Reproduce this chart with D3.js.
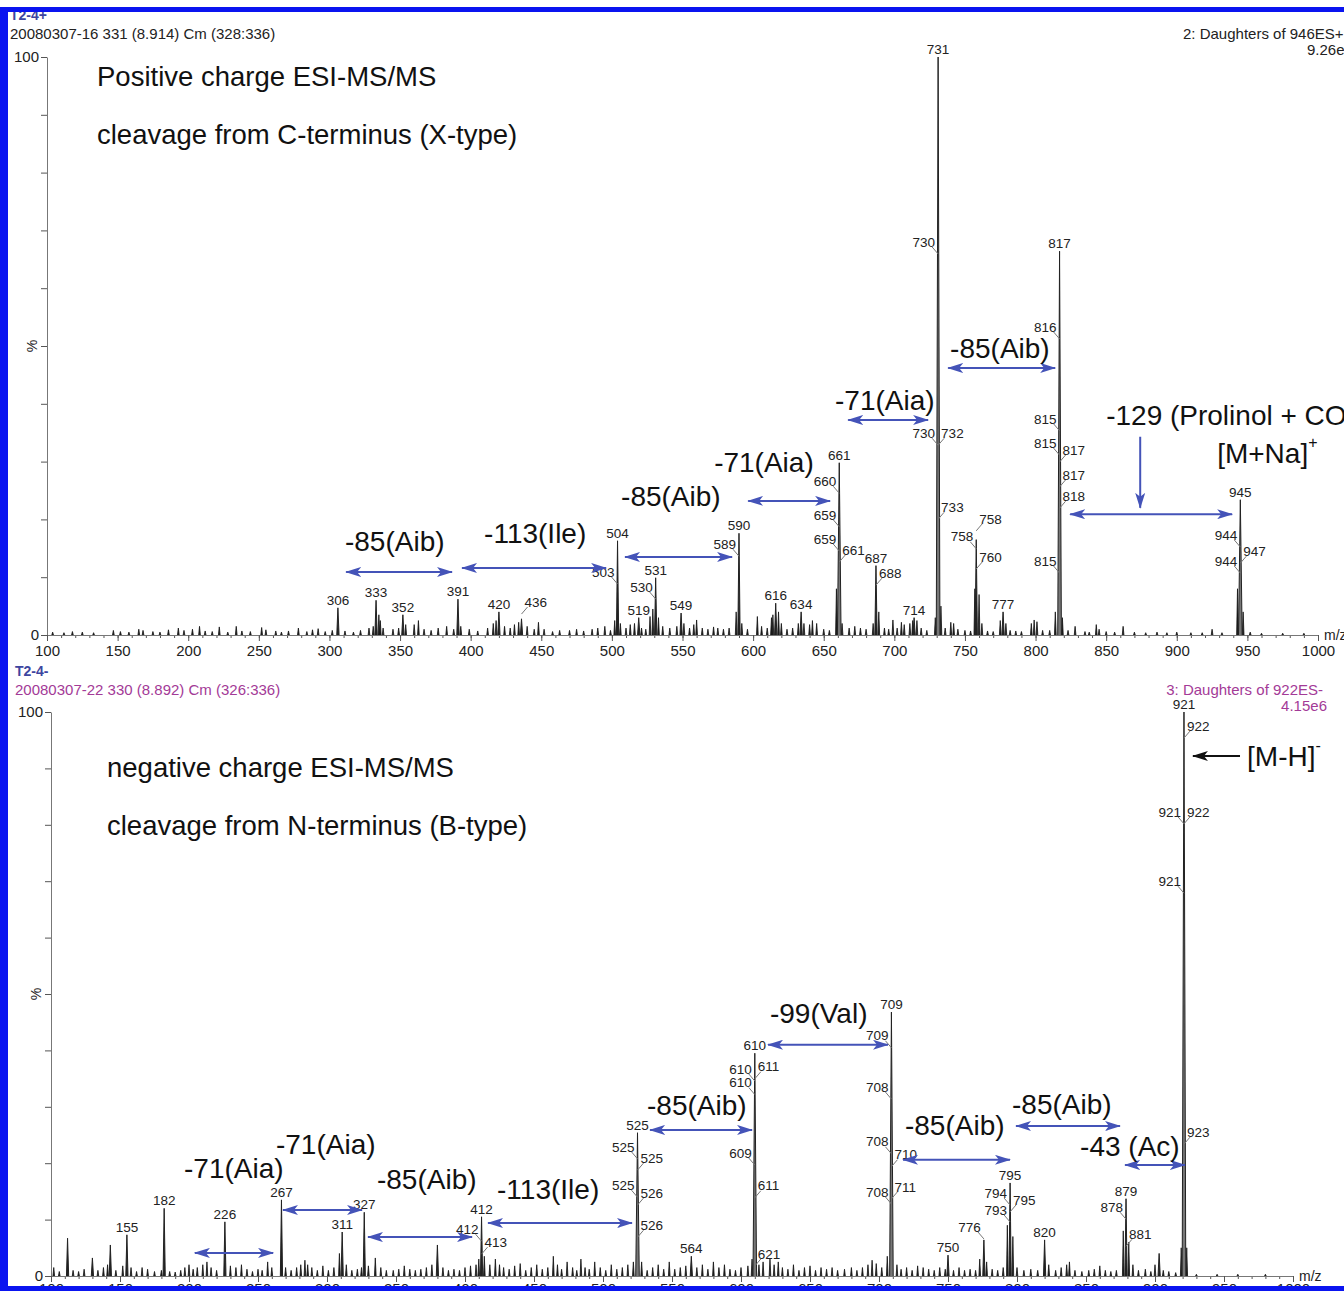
<!DOCTYPE html>
<html>
<head>
<meta charset="utf-8">
<script src="https://cdn.jsdelivr.net/npm/d3@7"></script>
<style>
  body { margin: 0; background: #fff; overflow: hidden; }
  svg { display: block; font-family: "Liberation Sans", Arial, sans-serif; }
  .tick text { font-size: 15px; fill: #222; }
  .tick line { stroke: #555; }
  .domain { stroke: #777; }
</style>
</head>
<body>
<div id="chart"></div>
<script>
// ---- positive mode (top) ----
const posPeaks = [[306,4.7],[333,6.0],[352,3.5],[391,6.2],[420,4.0],[436,2.8],[504,16.3],[519,3.0],[531,9.9],[549,3.8],[590,17.6],[616,5.5],[634,4.0],[661,29.8],[687,12.0],[714,3.0],[731,100],[758,16.5],[777,4.0],[817,66.4],[945,23.4]];
const posNoise = [[104,0.5],[112,0.4],[118,0.6],[125,0.5],[133,0.4],[147,0.8],[152,0.6],[158,0.5],[165,1.0],[168,0.8],[175,0.6],[180,0.5],[186,0.9],[193,1.2],[197,0.8],[203,1.0],[208,1.5],[212,0.7],[217,0.6],[222,1.4],[228,0.5],[234,1.5],[238,0.7],[244,0.6],[252,1.3],[255,0.9],[262,0.7],[266,0.5],[271,0.7],[278,1.2],[284,0.6],[288,0.9],[292,1.1],[297,0.6],[302,0.8],[311,0.7],[317,0.5],[322,0.8],[328,1.2],[331,1.5],[335,3.5],[336,2.5],[338,1.2],[345,1.0],[349,1.2],[354,1.8],[360,1.8],[363,2.5],[367,1.0],[372,0.8],[377,1.2],[383,1.5],[388,1.0],[393,1.5],[399,1.0],[405,0.7],[412,1.2],[416,2.0],[418,2.5],[424,1.5],[428,1.2],[431,1.8],[434,2.2],[440,1.5],[445,1.0],[448,2.2],[452,1.0],[458,0.6],[463,0.8],[470,0.8],[475,1.0],[480,0.7],[486,1.0],[490,1.2],[495,1.5],[499,0.8],[502,2.5],[506,2.0],[510,1.2],[513,1.8],[516,2.0],[521,1.2],[524,1.0],[527,3.2],[529,4.5],[533,3.0],[536,1.5],[541,1.2],[546,1.5],[551,2.0],[555,1.2],[558,1.8],[560,2.6],[564,1.2],[568,1.0],[572,1.4],[575,1.2],[579,1.0],[583,1.2],[588,4.0],[592,2.0],[596,1.0],[603,3.2],[606,1.5],[610,1.2],[613,3.0],[614,3.5],[618,4.0],[620,2.0],[624,1.0],[628,1.2],[632,2.0],[636,2.0],[640,1.8],[642,2.5],[645,2.0],[650,1.0],[654,0.8],[659,8],[663,2.0],[668,1.2],[672,1.5],[676,1.2],[680,1.0],[685,2.0],[689,4.0],[693,1.2],[696,1.0],[699,2.6],[702,1.2],[705,2.2],[707,1.8],[711,2.0],[713,2.5],[716,2.5],[719,1.2],[723,0.8],[729,3.0],[733,5.0],[736,1.2],[740,2.2],[742,2.0],[745,1.0],[750,0.8],[754,0.7],[757,8.0],[760,7.0],[762,2.0],[766,0.7],[770,0.6],[775,2.5],[779,2.0],[782,0.8],[786,0.7],[790,0.6],[797,2.0],[799,2.6],[801,2.3],[805,0.8],[810,0.8],[814,4.0],[819,3.0],[823,0.8],[828,1.5],[835,0.6],[838,0.5],[843,1.8],[845,1.0],[850,0.6],[856,0.5],[862,1.5],[870,0.5],[878,0.4],[886,0.5],[893,0.4],[900,0.5],[910,0.4],[918,0.4],[925,1.0],[932,0.4],[943,8],[947,4.0],[952,0.5],[960,0.3],[975,0.3],[990,0.3]];
// peak labels: [text, m/z of peak, %, side]  c = on top, l/r = side label with leader
const posLabels = [["306",306,4.7,"c"],["333",333,6.0,"c"],["352",352,3.5,"c"],["391",391,6.2,"c"],["420",420,4.0,"c"],["504",504,16.3,"c"],["519",519,3.0,"c"],["531",531,9.9,"c"],["549",549,3.8,"c"],["590",590,17.6,"c"],["616",616,5.5,"c"],["634",634,4.0,"c"],["661",661,29.8,"c"],["687",687,12.0,"c"],["714",714,3.0,"c"],["731",731,100,"c"],["777",777,4.0,"c"],["817",817,66.4,"c"],["945",945,23.4,"c"],
  ["730",731,68.0,"l"],["816",817,53.3,"l"],["815",817,37.4,"l"],["815",817,33.2,"l"],["815",817,12.8,"l"],["730",731,34.9,"l"],["758",758,17.0,"l"],["660",661,26.6,"l"],["659",661,20.8,"l"],["659",661,16.6,"l"],["589",590,15.7,"l"],["503",504,10.9,"l"],["530",531,8.3,"l"],["944",945,17.3,"l"],["944",945,12.8,"l"],
  ["817",817,32.0,"r"],["817",817,27.7,"r"],["818",817,24.0,"r"],["732",731,34.9,"r"],["733",731,22.1,"r"],["758",758,20.1,"r"],["760",758,13.5,"r"],["688",687,10.7,"r"],["661",661,14.7,"r"],["436",436,5.7,"r"],["947",945,14.5,"r"]];
// double arrows: [from m/z, to m/z, %]
const posArrows = [[311.8,386.8,10.9],[393.9,495.9,11.6],[509.3,585.1,13.5],[596.5,654.5,23.2],[667.3,723.9,37.2],[738.1,813.9,46.2],[824.5,939.2,20.9]];
// neutral loss notes: [text, m/z where text starts, %, superscript]
const posNotes = [["-85(Aib)",311,16.3],["-113(Ile)",409.5,17.6],["-85(Aib)",506.5,24.0],["-71(Aia)",572.4,29.9],["-71(Aia)",658,40.7],["-85(Aib)",739.5,49.6],["-129 (Prolinol + CO)",850,38.1],["[M+Na]",928.6,31.5,"+"]];

// ---- negative mode (bottom) ----
const negPeaks = [[112,6.7],[130,3.2],[143,5.5],[155,7.3],[182,12.0],[226,9.6],[267,13.5],[311,7.8],[327,11.3],[380,5.5],[412,10.5],[525,25.4],[564,3.5],[610,39.5],[709,46.8],[750,3.7],[776,6.4],[795,16.5],[820,6.4],[879,13.7],[903,4.0],[921,100]];
const negNoise = [[102,1.5],[106,0.8],[116,1.0],[120,0.8],[124,1.2],[134,1.0],[138,1.5],[141,2.0],[147,1.0],[152,1.8],[158,1.5],[162,0.8],[166,1.5],[170,1.2],[175,0.8],[180,1.0],[186,0.8],[190,0.7],[194,1.0],[197,1.5],[200,2.0],[203,1.2],[206,1.5],[210,2.0],[213,2.5],[216,1.5],[220,1.0],[230,1.8],[234,1.5],[238,2.0],[242,1.2],[246,0.8],[250,1.2],[253,1.0],[257,2.5],[260,1.5],[270,1.5],[274,1.0],[278,1.5],[281,2.0],[284,2.8],[286,2.0],[289,1.5],[293,1.0],[297,1.8],[301,1.0],[305,1.5],[309,4.0],[314,2.0],[318,1.0],[322,1.2],[325,1.5],[330,1.8],[335,3.2],[339,1.5],[343,1.0],[348,1.0],[352,1.2],[356,1.8],[360,1.2],[364,1.0],[368,1.2],[372,1.5],[376,2.0],[384,1.5],[388,1.0],[392,1.2],[396,1.0],[400,1.5],[404,1.8],[408,2.0],[410,3.0],[414,3.5],[418,2.0],[422,3.0],[425,2.0],[428,1.5],[432,1.2],[436,1.8],[440,2.2],[444,1.0],[448,1.5],[452,2.0],[456,1.2],[460,1.5],[464,3.5],[467,2.0],[470,1.2],[474,2.5],[478,1.5],[481,1.0],[484,3.0],[487,1.5],[490,1.2],[494,2.5],[498,1.5],[502,1.0],[506,2.0],[510,1.2],[514,1.5],[518,2.0],[522,2.5],[528,2.5],[532,1.0],[536,1.5],[540,2.0],[544,1.2],[548,2.5],[552,1.2],[556,1.5],[560,1.8],[568,1.5],[572,2.0],[576,1.2],[580,2.5],[584,1.5],[588,2.0],[592,1.2],[596,1.0],[600,1.5],[605,1.8],[608,3.0],[613,2.0],[616,2.5],[621,3.0],[624,2.0],[627,2.5],[630,1.5],[634,1.2],[638,2.0],[642,1.0],[646,1.5],[650,1.8],[654,1.0],[658,1.5],[662,1.2],[666,1.5],[670,1.0],[675,1.2],[680,1.5],[684,1.0],[688,1.5],[692,2.0],[695,2.8],[698,2.2],[702,1.5],[706,3.5],[713,2.0],[716,1.2],[720,1.5],[724,1.0],[728,1.8],[732,1.5],[736,1.2],[740,1.0],[744,1.5],[748,1.2],[754,1.0],[758,1.5],[762,1.0],[766,1.2],[770,1.0],[773,3.0],[778,2.5],[782,1.2],[786,1.0],[790,1.5],[793,9.0],[797,7.0],[800,1.5],[805,1.0],[810,1.2],[815,1.0],[823,2.0],[828,1.0],[832,1.5],[836,2.0],[838,2.5],[842,1.0],[847,0.8],[852,1.0],[856,1.2],[860,1.8],[864,1.0],[868,0.8],[872,1.0],[877,8.0],[881,6.0],[884,2.0],[888,1.0],[893,1.2],[897,0.8],[900,2.0],[906,1.0],[910,0.8],[915,0.6],[919,5.0],[923,5.0],[930,0.3],[945,0.3],[960,0.3],[980,0.3]];
const negLabels = [["155",155,7.3,"c"],["182",182,12.0,"c"],["226",226,9.6,"c"],["267",267,13.5,"c"],["311",311,7.8,"c"],["327",327,11.3,"c"],["412",412,10.5,"c"],["525",525,25.4,"c"],["564",564,3.5,"c"],["610",610,39.5,"c"],["709",709,46.8,"c"],["750",750,3.7,"c"],["795",795,16.5,"c"],["820",820,6.4,"c"],["879",879,13.7,"c"],["921",921,100,"c"],
  ["921",921,82.3,"l"],["921",921,70.0,"l"],["709",709,42.6,"l"],["708",709,33.5,"l"],["708",709,23.8,"l"],["708",709,14.9,"l"],["610",610,36.7,"l"],["610",610,34.3,"l"],["609",610,21.8,"l"],["525",525,22.9,"l"],["525",525,16.1,"l"],["412",412,8.3,"l"],["794",795,14.7,"l"],["793",795,11.7,"l"],["776",776,8.7,"l"],["878",879,12.2,"l"],
  ["922",921,97.5,"r"],["922",921,82.3,"r"],["923",921,25.5,"r"],["710",709,21.5,"r"],["711",709,15.8,"r"],["611",610,37.1,"r"],["611",610,16.0,"r"],["621",610,3.9,"r"],["525",525,20.9,"r"],["526",525,14.7,"r"],["526",525,9.0,"r"],["413",412,6.0,"r"],["795",795,13.5,"r"],["881",879,7.4,"r"]];
const negArrows = [[204.3,260.9,4.1],[268.1,325.4,11.7],[329.7,405.1,6.9],[416.7,521.0,9.4],[534.1,608.0,25.9],[619.6,706.5,41.0],[717.4,794.9,20.6],[799.3,874.6,26.6],[878.3,921.7,19.7]];
const negNotes = [["-71(Aia)",196.4,19.1],["-71(Aia)",263,23.4],["-85(Aib)",336.2,17.2],["-113(Ile)",423.2,15.4],["-85(Aib)",531.9,30.3],["-99(Val)",621,46.6],["-85(Aib)",718.8,26.8],["-85(Aib)",796.4,30.5],["-43 (Ac)",845.7,23.0],["[M-H]",966.7,92.2,"-"]];

const xTicks = d3.range(100, 1001, 50);
const yTicks = d3.range(0, 101, 10);

const W = 1344, H = 1291;
const svg = d3.select('#chart').append('svg').attr('width', W).attr('height', H);

const defs = svg.append('defs');
[['blueHead', '#4453b8'], ['blackHead', '#111']].forEach(([id, c]) => {
  defs.append('marker').attr('id', id)
    .attr('viewBox', '0 0 16 10').attr('refX', 15).attr('refY', 5)
    .attr('markerWidth', 16).attr('markerHeight', 10)
    .attr('markerUnits', 'userSpaceOnUse').attr('orient', 'auto-start-reverse')
    .append('path').attr('d', 'M0,0 L16,5 L0,10 L4,5 Z').attr('fill', c);
});

function drawPanel(p) {
  const x = d3.scaleLinear().domain([100, 1000]).range(p.xr);
  const y = d3.scaleLinear().domain([0, 100]).range(p.yr);
  const g = svg.append('g');

  // header
  g.append('text').attr('x', p.hx).attr('y', p.hy - 19).text(p.tag)
    .attr('font-size', 14).attr('font-weight', 'bold').attr('fill', '#3d45a0');
  g.append('text').attr('x', p.hx).attr('y', p.hy).text(p.run)
    .attr('font-size', 15).attr('fill', p.hcol);
  g.append('text').attr('x', p.rx).attr('y', p.hy).text(p.func)
    .attr('font-size', 15).attr('fill', p.hcol).attr('text-anchor', p.ranchor);
  g.append('text').attr('x', p.rx2).attr('y', p.hy + 16).text(p.tic)
    .attr('font-size', 15).attr('fill', p.hcol).attr('text-anchor', p.ranchor);

  // axes
  g.append('g').attr('transform', `translate(${p.xr[0]},0)`)
    .call(d3.axisLeft(y).tickValues(yTicks).tickSize(6).tickSizeOuter(0)
      .tickFormat(d => (d === 0 || d === 100) ? d : ''))
    .call(a => a.selectAll('.tick text').attr('dx', '1px'));
  g.append('text').text('%').attr('font-size', 14).attr('fill', '#222')
    .attr('transform', `translate(${p.xr[0] - 10},${y(50)}) rotate(-90)`).attr('text-anchor', 'middle');

  g.append('g').attr('transform', `translate(0,${p.yr[0]})`)
    .call(d3.axisBottom(x).tickValues(d3.range(100, 1001, 10)).tickSize(3).tickSizeOuter(0).tickFormat(''));
  g.append('g').attr('transform', `translate(0,${p.yr[0]})`)
    .call(d3.axisBottom(x).tickValues(xTicks).tickSize(6).tickSizeOuter(0)
      .tickPadding(p.tpad).tickFormat(d3.format('d')));
  g.append('text').text('m/z').attr('x', x(1000) + 6).attr('y', p.yr[0] + 5)
    .attr('font-size', 14).attr('fill', '#222');

  // titles
  p.titles.forEach((t, i) => {
    g.append('text').text(t).attr('x', p.tx).attr('y', p.ty + i * 58)
      .attr('font-size', 27.5).attr('fill', '#111');
  });

  // peaks (profile spikes)
  const spike = (d, w) => `M${x(d[0] - w)},${y(0)} L${x(d[0])},${y(d[1])} L${x(d[0] + w)},${y(0)}`;
  g.append('g').selectAll('path').data(p.noise).join('path')
    .attr('d', d => spike(d, 0.6)).attr('fill', '#222').attr('stroke', '#111').attr('stroke-width', 0.8);
  g.append('g').selectAll('path').data(p.peaks).join('path')
    .attr('d', d => spike(d, d[1] > 20 ? 1.3 : 0.8))
    .attr('fill', d => d[1] > 20 ? '#777' : '#222').attr('stroke', '#222').attr('stroke-width', 1);

  // peak labels
  const lg = g.append('g').attr('font-size', 13.5).attr('fill', '#222');
  p.labels.forEach(([t, m, v, side]) => {
    const px = x(m), py = y(v);
    if (side === 'c') {
      lg.append('text').text(t).attr('x', px).attr('y', py - 3).attr('text-anchor', 'middle');
    } else {
      const s = side === 'l' ? -1 : 1;
      lg.append('text').text(t).attr('x', px + s * 3).attr('y', py).attr('dy', '0.35em')
        .attr('text-anchor', side === 'l' ? 'end' : 'start');
      lg.append('line').attr('x1', px + s * 6).attr('y1', py + 5).attr('x2', px).attr('y2', py + 12)
        .attr('stroke', '#777').attr('stroke-width', 1);
    }
  });

  // loss arrows
  g.append('g').selectAll('line').data(p.arrows).join('line')
    .attr('x1', d => x(d[0])).attr('x2', d => x(d[1]))
    .attr('y1', d => y(d[2])).attr('y2', d => y(d[2]))
    .attr('stroke', '#4453b8').attr('stroke-width', 2)
    .attr('marker-start', 'url(#blueHead)').attr('marker-end', 'url(#blueHead)');

  // loss notes
  p.notes.forEach(([t, m, v, sup]) => {
    const tx = g.append('text').attr('x', x(m)).attr('y', y(v)).attr('dy', '0.35em')
      .attr('font-size', 28).attr('fill', '#111').text(t);
    if (sup) tx.append('tspan').text(sup).attr('font-size', 16).attr('dy', '-0.9em');
  });
  return { g, x, y };
}

const topPanel = drawPanel({
  xr: [47, 1318], yr: [635, 57], hx: 10, hy: 39, hcol: '#222', tpad: 4,
  tag: 'T2-4+', run: '20080307-16 331 (8.914) Cm (328:336)',
  func: '2: Daughters of 946ES+', tic: '9.26e5', rx: 1183, rx2: 1307, ranchor: 'start',
  titles: ['Positive charge ESI-MS/MS', 'cleavage from C-terminus (X-type)'], tx: 97, ty: 86,
  peaks: posPeaks, noise: posNoise, labels: posLabels, arrows: posArrows, notes: posNotes
});
// vertical arrow onto the 945 -> 817 loss
topPanel.g.append('line').attr('x1', topPanel.x(874.1)).attr('x2', topPanel.x(874.1))
  .attr('y1', topPanel.y(34.3)).attr('y2', topPanel.y(22.0))
  .attr('stroke', '#4453b8').attr('stroke-width', 2).attr('marker-end', 'url(#blueHead)');

const botPanel = drawPanel({
  xr: [51, 1293], yr: [1276, 712], hx: 15, hy: 695, hcol: '#a33a97', tpad: 1,
  tag: 'T2-4-', run: '20080307-22 330 (8.892) Cm (326:336)',
  func: '3: Daughters of 922ES-', tic: '4.15e6', rx: 1323, rx2: 1327, ranchor: 'end',
  titles: ['negative charge ESI-MS/MS', 'cleavage from N-terminus (B-type)'], tx: 107, ty: 777,
  peaks: negPeaks, noise: negNoise, labels: negLabels, arrows: negArrows, notes: negNotes
});
// [M-H]- pointer
botPanel.g.append('line').attr('x1', botPanel.x(961.6)).attr('x2', botPanel.x(927.5))
  .attr('y1', botPanel.y(92.2)).attr('y2', botPanel.y(92.2))
  .attr('stroke', '#111').attr('stroke-width', 2).attr('marker-end', 'url(#blackHead)');

// blue frame
svg.append('rect').attr('x', 0).attr('y', 7).attr('width', W).attr('height', 5).attr('fill', '#0a14f0');
svg.append('rect').attr('x', 0).attr('y', 7).attr('width', 8).attr('height', H).attr('fill', '#0a14f0');
svg.append('rect').attr('x', 0).attr('y', 1286).attr('width', W).attr('height', 5).attr('fill', '#0a14f0');
</script>
</body>
</html>
